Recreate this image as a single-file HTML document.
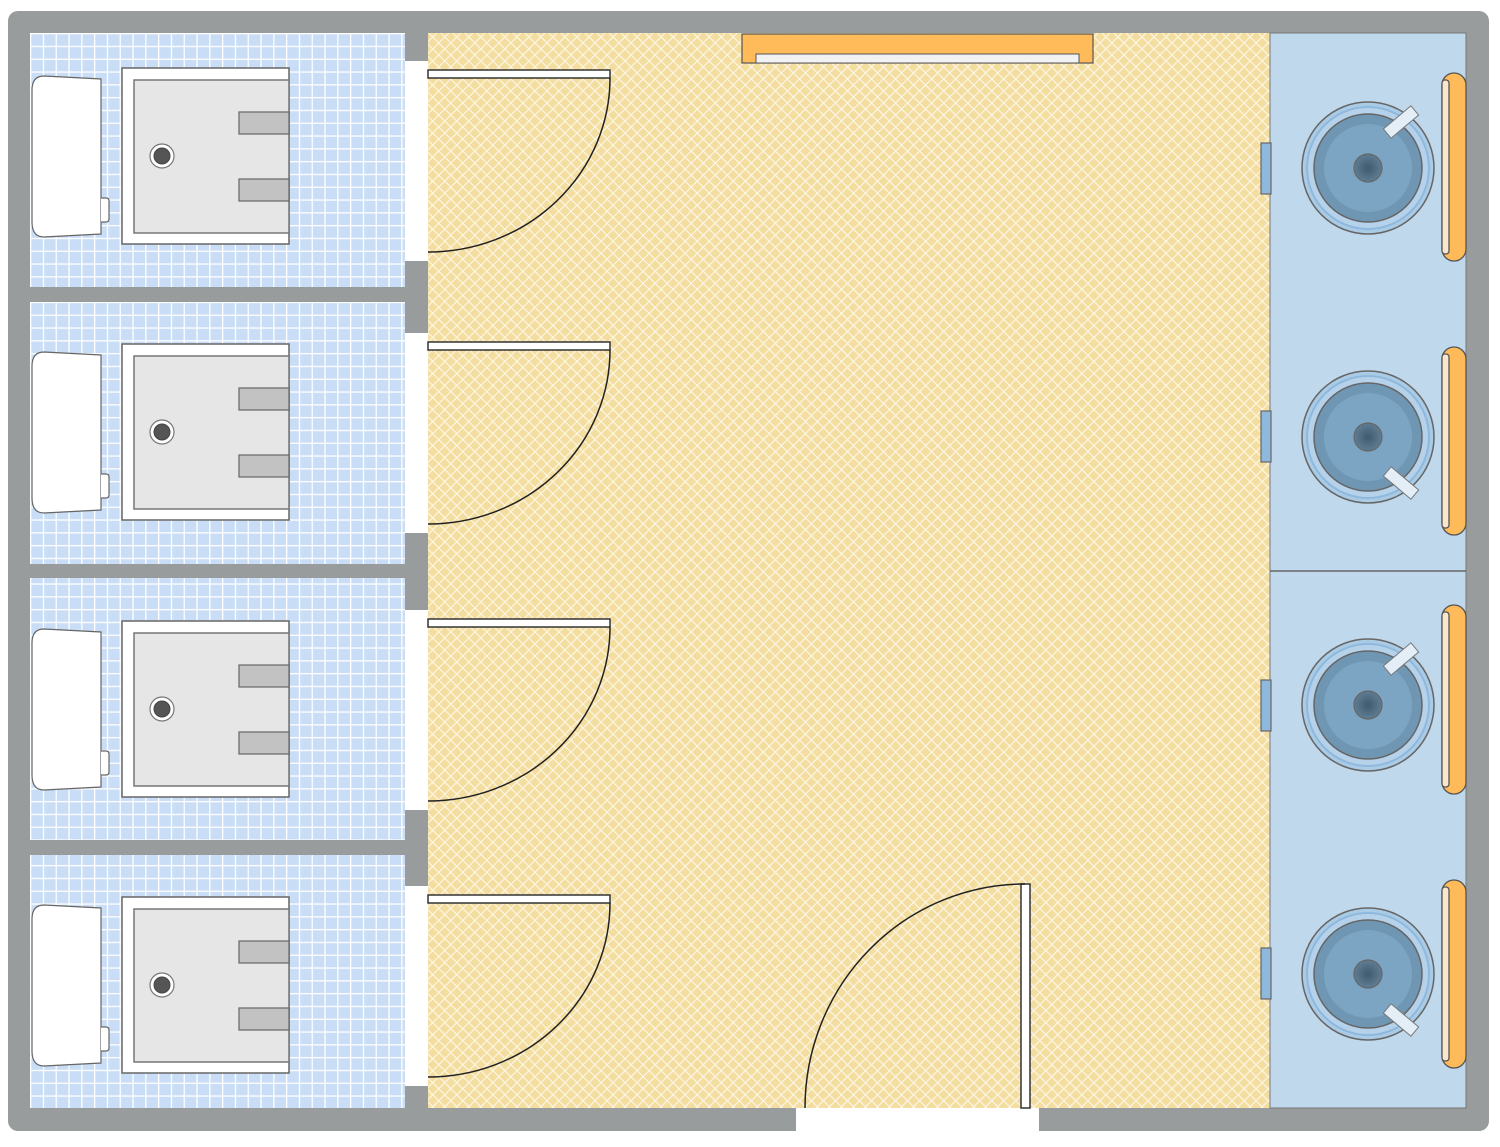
<!DOCTYPE html>
<html><head><meta charset="utf-8"><style>html,body{margin:0;padding:0;background:#fff}svg{display:block}</style></head><body>
<svg width="1500" height="1147" viewBox="0 0 1500 1147" xmlns="http://www.w3.org/2000/svg">
<defs>
<pattern id="tile" x="30" y="33" width="12.8" height="12.8" patternUnits="userSpaceOnUse">
<rect width="12.8" height="12.8" fill="#fff"/><rect x="1.3" y="1.3" width="11.5" height="11.5" fill="#c9ddf6"/>
</pattern>
<pattern id="hatch" width="8.5" height="8.5" patternUnits="userSpaceOnUse" patternTransform="rotate(45)">
<rect width="8.5" height="8.5" fill="#fdf6e4"/><rect x="1.2" y="1.2" width="7.3" height="7.3" fill="#f3dd9f"/>
</pattern>
<radialGradient id="drain"><stop offset="0" stop-color="#3f5a6e"/><stop offset="1" stop-color="#5f7d93"/></radialGradient>
<g id="stall">
<path d="M44,76 L101,79 L101,234 L44,237 Q32,237 32,222 L32,90 Q32,76 44,76 Z" fill="#fff" stroke="#666" stroke-width="1.2"/>
<path d="M101,198 L106,198 Q109,198 109,201 L109,219 Q109,222 106,222 L101,222" fill="#fff" stroke="#666" stroke-width="1.2"/>
<rect x="122" y="68" width="167" height="176" fill="#fff" stroke="#666" stroke-width="1.5"/>
<rect x="134" y="80" width="155" height="153" fill="#e6e6e6" stroke="#777" stroke-width="1.5"/>
<rect x="239" y="112" width="50" height="22" fill="#c2c2c2" stroke="#666" stroke-width="1.2"/>
<rect x="239" y="179" width="50" height="22" fill="#c2c2c2" stroke="#666" stroke-width="1.2"/>
<circle cx="162" cy="156" r="12" fill="#fff" stroke="#777" stroke-width="1.2"/>
<circle cx="162" cy="156" r="8" fill="#555" stroke="#444"/>
</g>
<g id="door">
<rect x="428" y="70" width="182" height="8" fill="#fff" stroke="#333" stroke-width="1.5"/>
<path d="M610,78 A182,174 0 0 1 428,252" fill="none" stroke="#222" stroke-width="1.5"/>
</g>
<g id="sink">
<circle r="66" fill="#a9cbe6" stroke="#666" stroke-width="1.5"/>
<circle r="61" fill="#b6d2ea" stroke="#8fb8dd" stroke-width="2"/>
<circle r="54" fill="#6f97b3" stroke="#666" stroke-width="1.5"/>
<circle r="44" fill="#7ca5c4"/>
<circle r="14" fill="url(#drain)" stroke="#666" stroke-width="1.2"/>
</g>
</defs>
<rect x="8" y="11" width="1481" height="1120" rx="10" fill="#999c9c"/>
<rect x="30" y="33" width="375" height="254" fill="url(#tile)"/>
<rect x="30" y="302" width="375" height="262" fill="url(#tile)"/>
<rect x="30" y="578" width="375" height="262" fill="url(#tile)"/>
<rect x="30" y="855" width="375" height="253" fill="url(#tile)"/>
<rect x="428" y="33" width="842" height="1075" fill="url(#hatch)"/>
<rect x="1270" y="33" width="196" height="1075" fill="#c0d8eb" stroke="#777" stroke-width="1"/>
<line x1="1270" y1="571" x2="1466" y2="571" stroke="#666" stroke-width="1.5"/>
<rect x="405" y="61" width="23" height="200" fill="#fff"/>
<rect x="405" y="333" width="23" height="200" fill="#fff"/>
<rect x="405" y="610" width="23" height="200" fill="#fff"/>
<rect x="405" y="886" width="23" height="200" fill="#fff"/>
<rect x="796" y="1108" width="243" height="23" fill="#fff"/>
<use href="#stall"/>
<use href="#stall" y="276"/>
<use href="#stall" y="553"/>
<use href="#stall" y="829"/>
<use href="#door"/>
<use href="#door" y="272"/>
<use href="#door" y="549"/>
<use href="#door" y="825"/>
<rect x="742" y="34" width="351" height="29" fill="#ffba5a" stroke="#555" stroke-width="1.2"/>
<rect x="756" y="54" width="323" height="9" fill="#f2f2f2" stroke="#555" stroke-width="1"/>
<rect x="1021" y="884" width="9" height="224" fill="#fff" stroke="#333" stroke-width="1.5"/>
<path d="M1025,884 A220,224 0 0 0 805,1108" fill="none" stroke="#222" stroke-width="1.5"/>
<g stroke="#666" stroke-width="1.2" fill="#8fb8dd">
<rect x="1261" y="143" width="10" height="51"/>
<rect x="1261" y="411" width="10" height="51"/>
<rect x="1261" y="680" width="10" height="51"/>
<rect x="1261" y="948" width="10" height="51"/>
</g>
<g stroke="#555" stroke-width="1.3">
<rect x="1442" y="73" width="24" height="188" rx="12" fill="#ffba5a"/>
<rect x="1442" y="80" width="7" height="174" rx="3" fill="#fbe6cc"/>
<rect x="1442" y="347" width="24" height="188" rx="12" fill="#ffba5a"/>
<rect x="1442" y="354" width="7" height="174" rx="3" fill="#fbe6cc"/>
<rect x="1442" y="605" width="24" height="189" rx="12" fill="#ffba5a"/>
<rect x="1442" y="612" width="7" height="175" rx="3" fill="#fbe6cc"/>
<rect x="1442" y="880" width="24" height="188" rx="12" fill="#ffba5a"/>
<rect x="1442" y="887" width="7" height="174" rx="3" fill="#fbe6cc"/>
</g>
<use href="#sink" x="1368" y="168"/>
<use href="#sink" x="1368" y="437"/>
<use href="#sink" x="1368" y="705"/>
<use href="#sink" x="1368" y="974"/>
<g fill="#e4eef7" stroke="#777" stroke-width="1">
<rect x="-18" y="-6" width="36" height="12" transform="translate(1401,122) rotate(-40)"/>
<rect x="-18" y="-6" width="36" height="12" transform="translate(1401,483) rotate(40)"/>
<rect x="-18" y="-6" width="36" height="12" transform="translate(1401,659) rotate(-40)"/>
<rect x="-18" y="-6" width="36" height="12" transform="translate(1401,1020) rotate(40)"/>
</g>
</svg>
</body></html>
